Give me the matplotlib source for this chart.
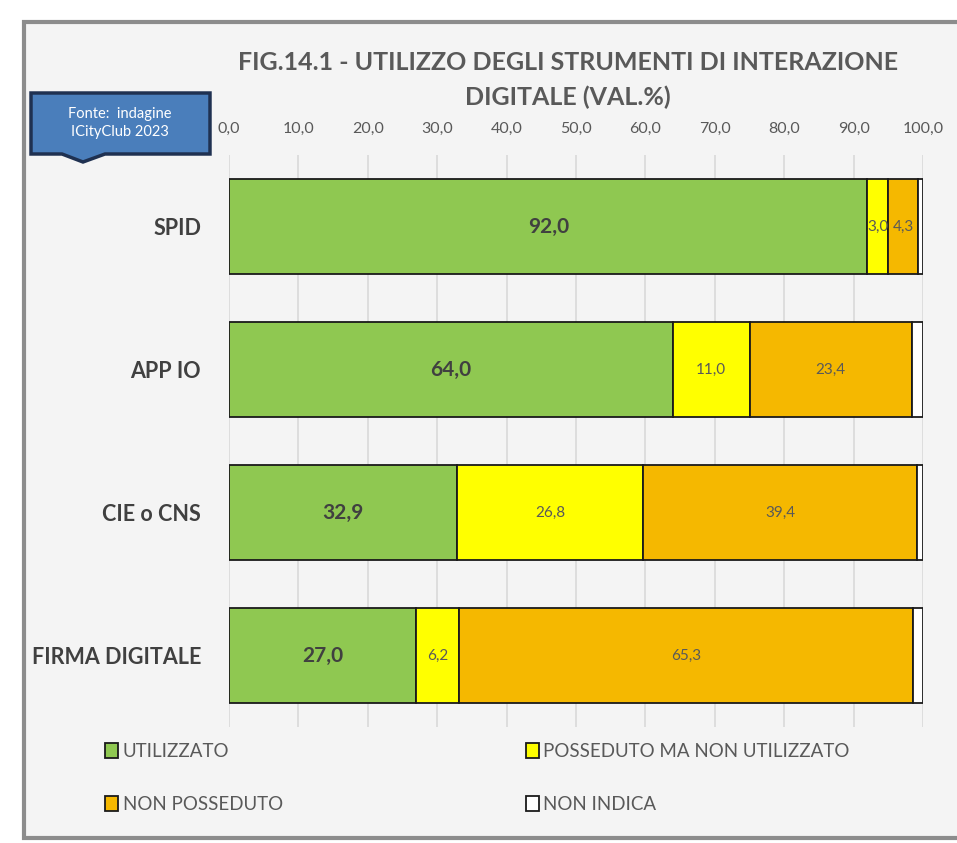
import numpy as np
import matplotlib.pyplot as plt
from matplotlib.patches import Rectangle, Polygon

plt.rcParams['font.family'] = ['Lato', 'DejaVu Sans']

# --- dati (val. %) ---
categorie = ["SPID", "APP IO", "CIE o CNS", "FIRMA DIGITALE"]
utilizzato = [92.0, 64.0, 32.9, 27.0]
posseduto_non_utilizzato = [3.0, 11.0, 26.8, 6.2]
non_posseduto = [4.3, 23.4, 39.4, 65.3]
non_indica = [0.7, 1.6, 0.9, 1.5]

serie = ["UTILIZZATO", "POSSEDUTO MA NON UTILIZZATO", "NON POSSEDUTO", "NON INDICA"]
colori = ["#8fc851", "#ffff00", "#f5b800", "#ffffff"]
valori = [utilizzato, posseduto_non_utilizzato, non_posseduto, non_indica]

fig = plt.figure(figsize=(9.57, 8.43), dpi=100)
fig.patch.set_facecolor("white")

# pannello grigio chiaro con bordo
fig.add_artist(Rectangle((24 / 957, 5 / 843), 940 / 957, 816 / 843,
                         transform=fig.transFigure, facecolor="#f4f4f4",
                         edgecolor="#8c8c8c", linewidth=3, zorder=0))

ax = fig.add_axes([229 / 957, 1 - 727 / 843, 694 / 957, 572 / 843])
ax.set_facecolor("none")
for s in ax.spines.values():
    s.set_visible(False)

y = np.arange(len(categorie))
left = np.zeros(len(categorie))
for i, (nome, col, val) in enumerate(zip(serie, colori, valori)):
    val = np.array(val)
    ax.barh(y, val, left=left, height=0.66, color=col, edgecolor="#1a1a1a",
            linewidth=1.3, label=nome, zorder=3)
    if i < 3:
        for yy, l, v in zip(y, left, val):
            if i == 0:
                ax.text(l + v / 2, yy, f"{v:.1f}".replace(".", ","), ha="center",
                        va="center", fontsize=15, fontweight="bold",
                        color="#404040", zorder=4)
            else:
                ax.text(l + v / 2, yy, f"{v:.1f}".replace(".", ","), ha="center",
                        va="center", fontsize=11, color="#595959", zorder=4)
    left += val

ax.set_xlim(0, 100)
ax.set_ylim(3.5, -0.5)
ax.set_xticks(np.arange(0, 101, 10))
ax.set_xticklabels([f"{t:.1f}".replace(".", ",") for t in np.arange(0, 101, 10)])
ax.xaxis.tick_top()
ax.tick_params(axis="x", length=0, pad=14, labelsize=11.5, labelcolor="#595959")
ax.set_yticks(y)
ax.set_yticklabels(categorie, fontsize=15.5, fontweight="bold", color="#404040")
ax.tick_params(axis="y", length=0, pad=20)
ax.grid(axis="x", color="#d9d9d9", linewidth=1.2, zorder=0)
ax.set_axisbelow(True)

fig.text(568 / 957, 1 - 62 / 843, "FIG.14.1 - UTILIZZO DEGLI STRUMENTI DI INTERAZIONE",
         ha="center", va="center", fontsize=18, fontweight="bold", color="#595959")
fig.text(568 / 957, 1 - 97 / 843, "DIGITALE (VAL.%)",
         ha="center", va="center", fontsize=18, fontweight="bold", color="#595959")

# riquadro fonte
fig.add_artist(Polygon([(31 / 957, 1 - 93 / 843), (210 / 957, 1 - 93 / 843),
                        (210 / 957, 1 - 154 / 843), (105 / 957, 1 - 154 / 843),
                        (83 / 957, 1 - 162 / 843), (62 / 957, 1 - 154 / 843),
                        (31 / 957, 1 - 154 / 843)],
                       closed=True, transform=fig.transFigure, facecolor="#4a7ebb",
                       edgecolor="#1f3151", linewidth=2.5, zorder=5))
fig.text(120 / 957, 1 - 123 / 843, "Fonte:  indagine\nICityClub 2023", ha="center",
         va="center", fontsize=10.5, color="white", linespacing=1.3, zorder=6)

# legenda
handles = [Rectangle((0, 0), 1, 1, facecolor=c, edgecolor="#1a1a1a", linewidth=1.3)
           for c in colori]
ordine = [0, 2, 1, 3]
fig.legend([handles[k] for k in ordine], [serie[k] for k in ordine], ncol=2,
           loc="upper left", bbox_to_anchor=(88 / 957, 1 - 726 / 843),
           frameon=False, fontsize=13.5, labelcolor="#595959",
           handlelength=0.7, handleheight=0.9, handletextpad=0.25,
           columnspacing=12.95, labelspacing=1.9)

fig.savefig("out.png", dpi=100)
